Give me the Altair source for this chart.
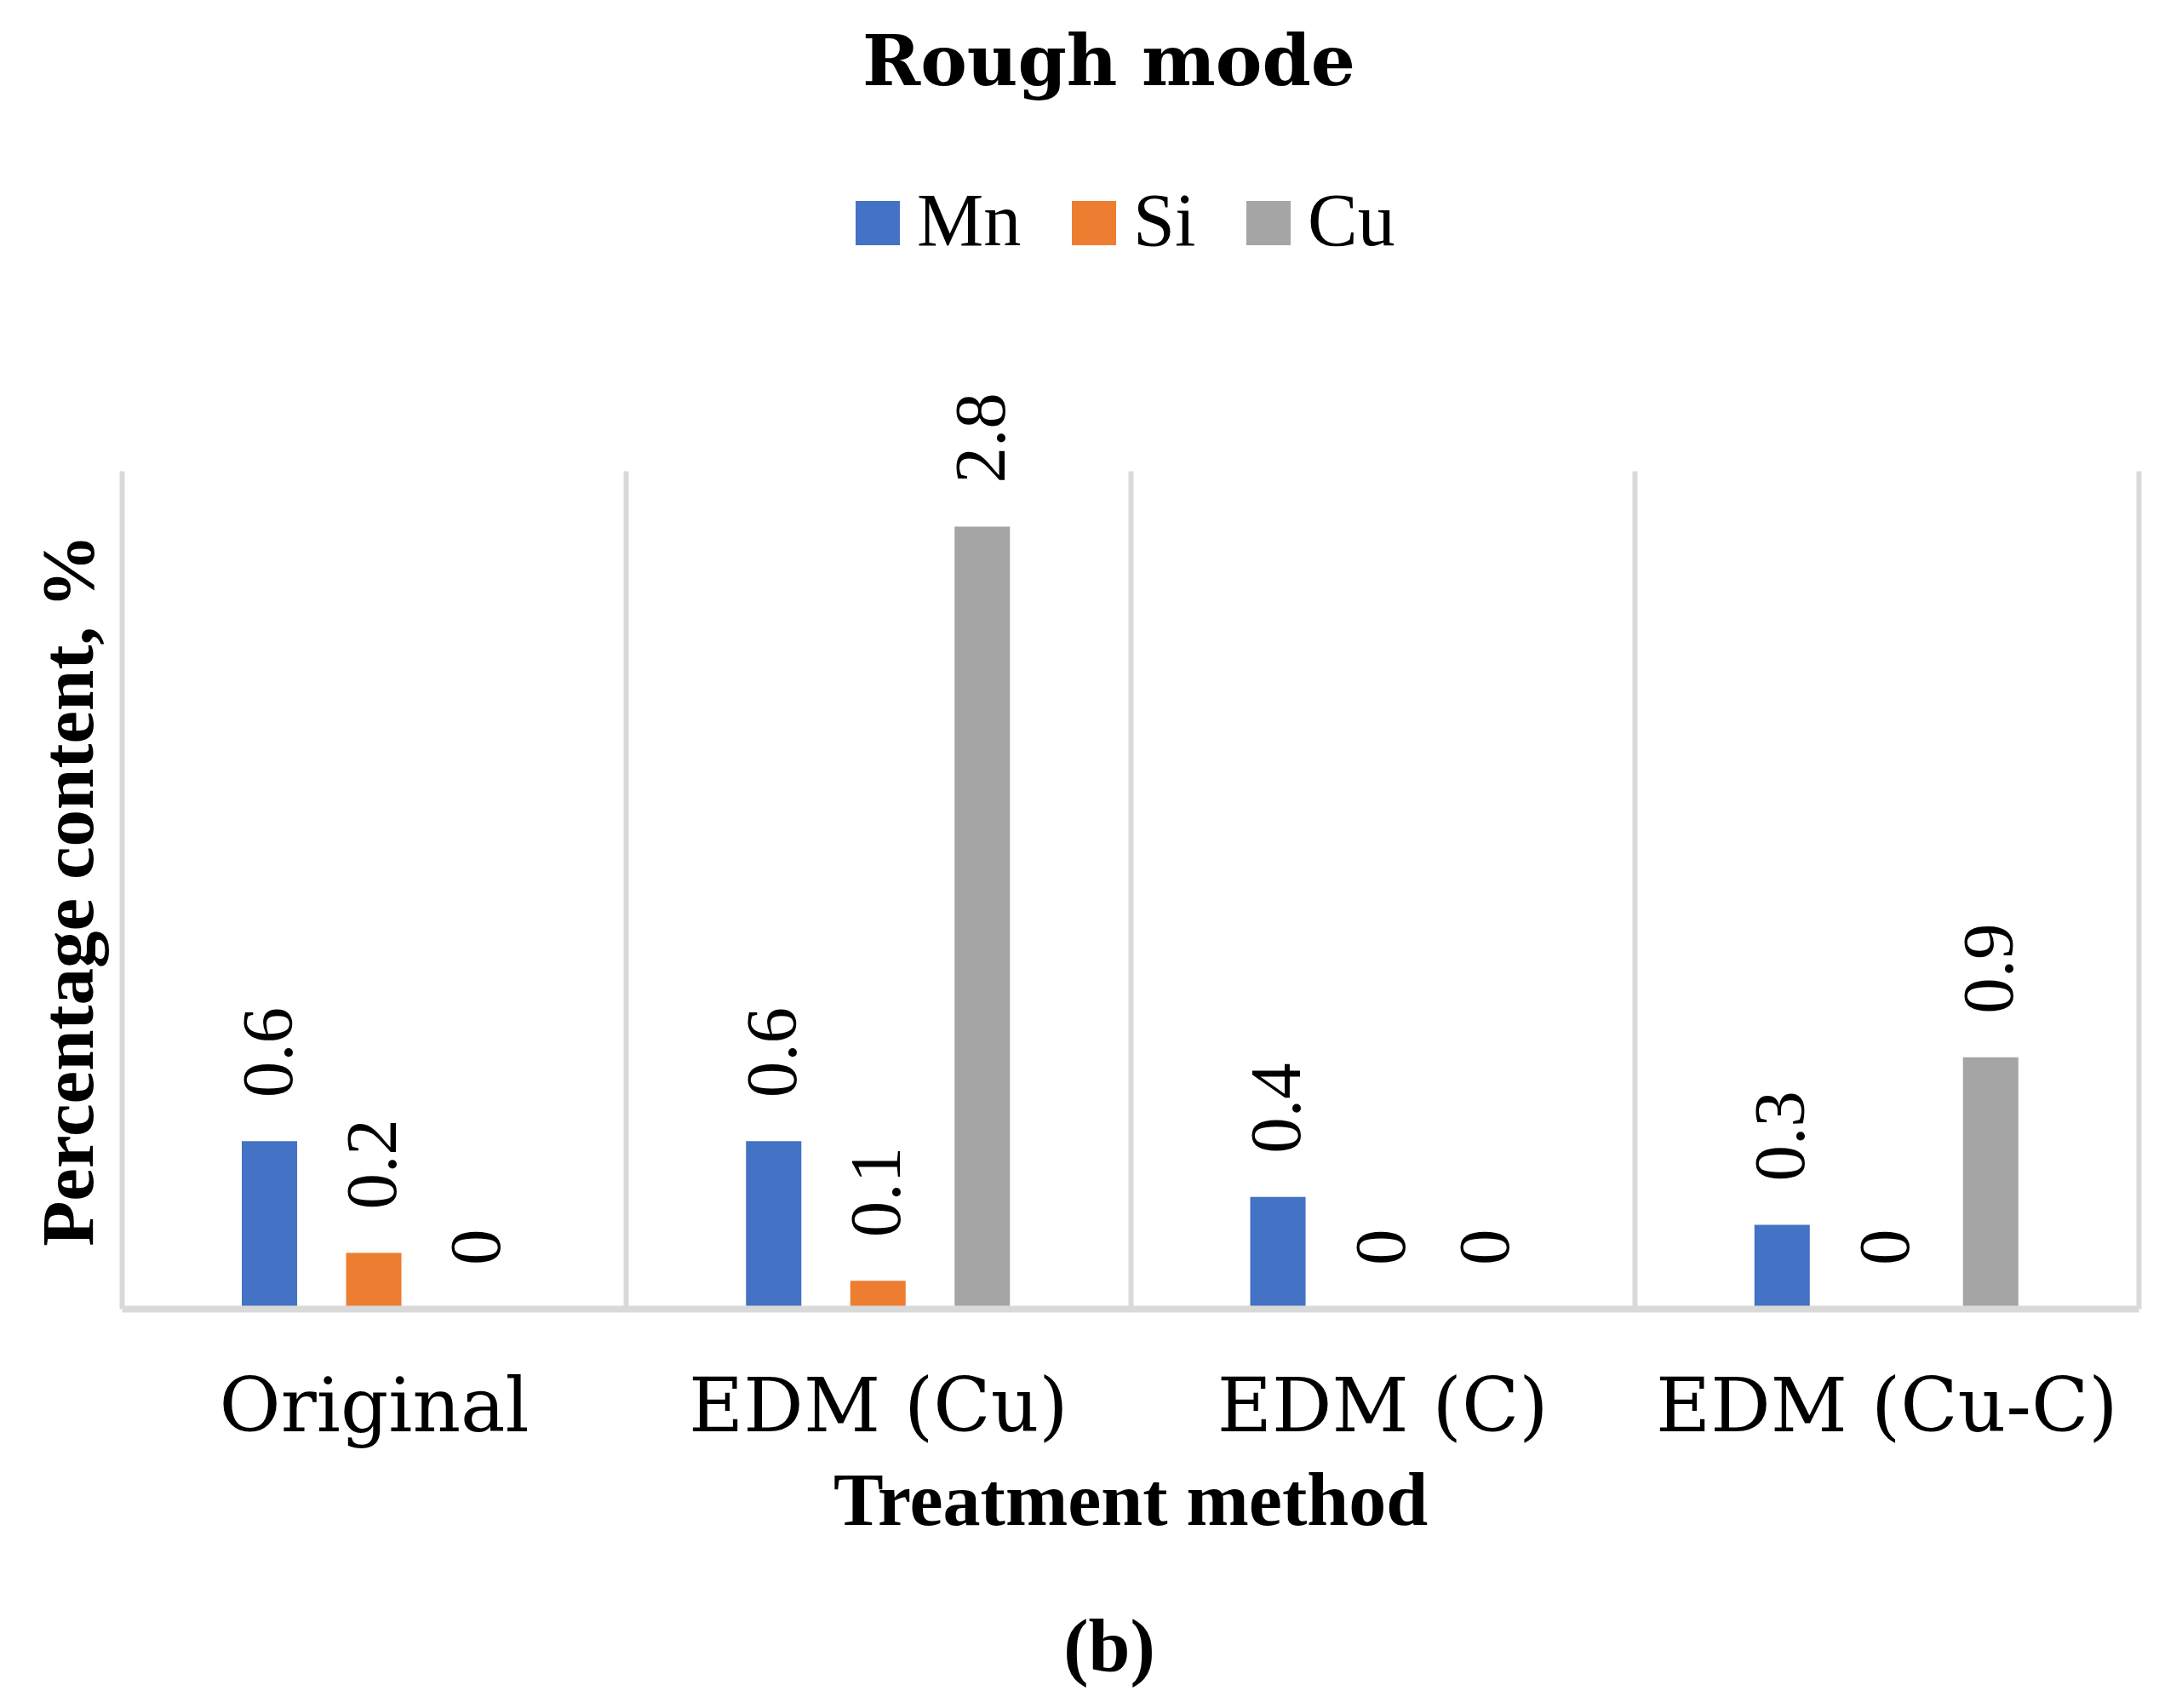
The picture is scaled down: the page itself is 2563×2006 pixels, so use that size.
import altair as alt
import pandas as pd

methods = ["Original", "EDM (Cu)", "EDM (C)", "EDM (Cu-C)"]
elements = ["Mn", "Si", "Cu"]
mn_values = [0.6, 0.6, 0.4, 0.3]
si_values = [0.2, 0.1, 0, 0]
cu_values = [0, 2.8, 0, 0.9]
colors = ["#4472C4", "#ED7D31", "#A5A5A5"]

rows = []
for i, m in enumerate(methods):
    for el, vals in zip(elements, [mn_values, si_values, cu_values]):
        rows.append({"method": m, "element": el, "value": vals[i], "label": f"{vals[i]:g}"})
df = pd.DataFrame(rows)

x_enc = alt.X(
    "method:N", sort=methods, title="Treatment method",
    scale=alt.Scale(paddingInner=0, paddingOuter=0),
    axis=alt.Axis(
        labelFont="DejaVu Serif", labelFontSize=88, labelColor="black", labelAngle=0,
        labelBaseline="alphabetic", labelPadding=143, labelLimit=1000,
        ticks=False, tickSize=0,
        domainColor="#D9D9D9", domainWidth=8, grid=True, gridColor="#D9D9D9",
        gridWidth=6, tickBand="extent", titleFont="Liberation Serif", titleFontSize=88,
        titleFontWeight="bold", titleColor="black", titleBaseline="alphabetic",
        titleY=253, zindex=1,
    ),
)
xo_enc = alt.XOffset("element:N", sort=elements,
                     scale=alt.Scale(paddingInner=0.469, paddingOuter=0,
                                     range=[141, 451]))
y_enc = alt.Y(
    "value:Q", title="Percentage content, %",
    scale=alt.Scale(domain=[0, 3], nice=False),
    axis=alt.Axis(
        labels=False, ticks=False, domain=False, grid=False,
        titleFont="Liberation Serif", titleFontSize=87, titleFontWeight="bold",
        titleColor="black", titleAngle=270, titleBaseline="alphabetic",
        titleX=-35, titleY=492, titleAlign="center",
    ),
)

base = alt.Chart(df).encode(x=x_enc, xOffset=xo_enc, y=y_enc)

bars = base.mark_bar().encode(
    color=alt.Color(
        "element:N", sort=elements,
        scale=alt.Scale(domain=elements, range=colors),
        legend=alt.Legend(
            orient="none", legendX=844, legendY=-335, direction="horizontal",
            title=None, symbolType="square", symbolSize=2704, symbolStrokeWidth=0,
            symbolOpacity=1, labelFont="Liberation Serif", labelFontSize=88,
            labelColor="black", labelOffset=2, columnPadding=41, padding=0,
        ),
    )
)

labels = base.mark_text(
    angle=270, align="left", baseline="middle", dx=51,
    font="Liberation Serif", fontSize=85, color="black",
).encode(text="label:N")

note = alt.Chart(pd.DataFrame({"t": ["(b)"]})).mark_text(
    font="Liberation Serif", fontSize=88, fontWeight="bold", color="black",
    align="center", baseline="alphabetic",
).encode(text="t:N", x=alt.value(1160), y=alt.value(1410))

chart = alt.layer(bars, labels, note).properties(
    width=2369, height=984,
    title=alt.Title(
        "Rough mode", font="DejaVu Serif", fontSize=82, fontWeight="bold",
        color="black", anchor="middle", frame="group", baseline="alphabetic",
        offset=36, dx=-25,
    ),
    padding={"left": 135, "top": 545, "right": 20, "bottom": 460},
    autosize=alt.AutoSizeParams(type="none"),
).configure_view(strokeOpacity=0)

chart.save("out.html", embed_options={"renderer": "svg", "actions": False})
